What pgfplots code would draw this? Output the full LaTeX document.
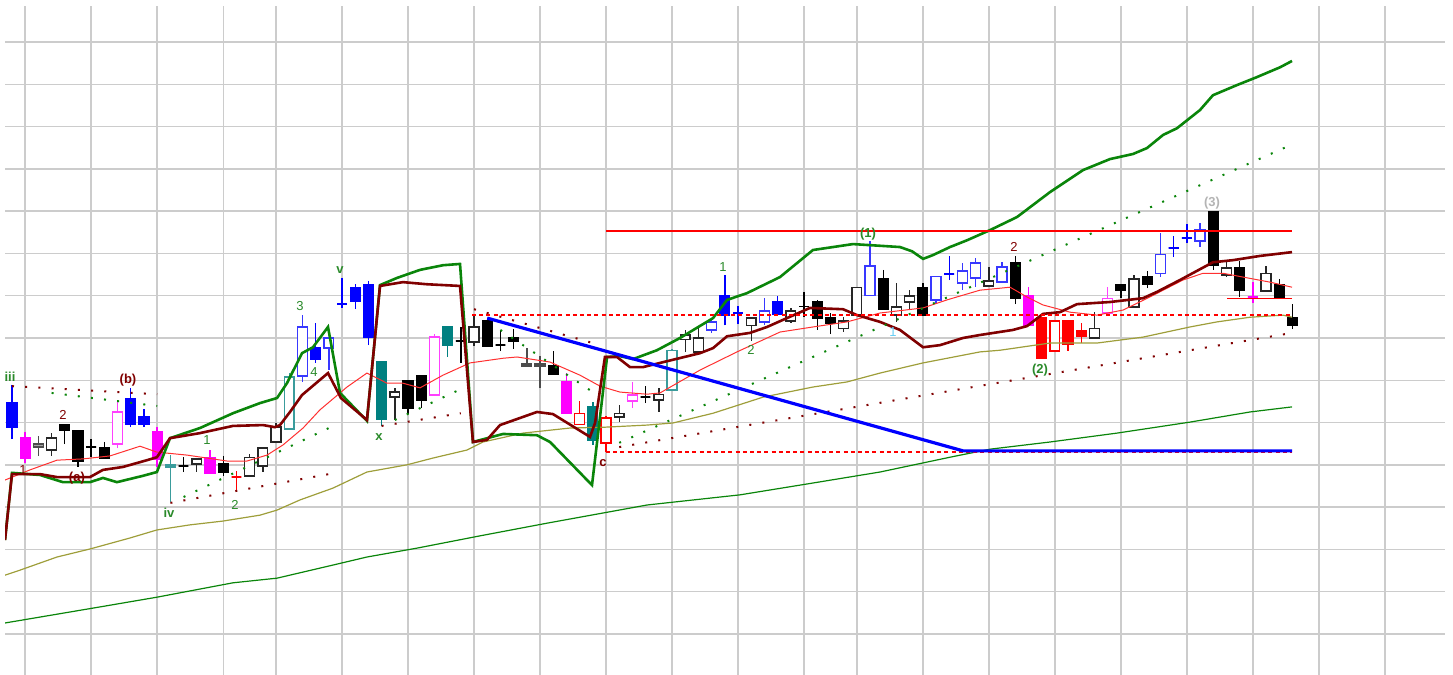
\documentclass[border=0pt]{standalone}
\usepackage{fontspec}
\setmainfont{Liberation Sans}
\usepackage{pgfplots}
\pgfplotsset{compat=1.18}
\usepgfplotslibrary{statistics}

\definecolor{cblue}{HTML}{0000FF}
\definecolor{cblueh}{HTML}{3838FF}
\definecolor{cmag}{HTML}{FF00FF}
\definecolor{cmagh}{HTML}{FF40FF}
\definecolor{cteal}{HTML}{008080}
\definecolor{ctealh}{HTML}{3A9C9C}
\definecolor{cred}{HTML}{FF0000}
\definecolor{bandgreen}{HTML}{0A850A}
\definecolor{bandred}{HTML}{800000}
\definecolor{marine}{HTML}{FF3030}
\definecolor{olivel}{HTML}{9E9E3A}
\definecolor{lblgreen}{HTML}{2A8A2A}
\definecolor{lblgray}{HTML}{B4B4B4}

\pgfplotsset{
  cdl/.style={solid, line width=0.7pt, boxplot/draw direction=y,
    boxplot/box extend=0.74, boxplot/whisker extend=0},
  bF/.style={cdl, draw=cblue, fill=cblue},
  bH/.style={cdl, draw=cblueh, fill=white},
  mF/.style={cdl, draw=cmag, fill=cmag},
  mH/.style={cdl, draw=cmagh, fill=white},
  tF/.style={cdl, draw=cteal, fill=cteal},
  tH/.style={cdl, draw=ctealh, fill=white},
  rF/.style={cdl, draw=cred, fill=cred},
  rH/.style={cdl, draw=cred, fill=white},
  kF/.style={cdl, draw=black, fill=black},
  kH/.style={cdl, draw=black!85, fill=white},
  gF/.style={cdl, draw=black!70, fill=black!35},
  dots/.style={line width=1pt, dash pattern=on 1pt off 5.6pt},
  dashr/.style={cred, line width=0.7pt, dash pattern=on 2pt off 1.6pt},
}
\tikzset{
  lbl/.style={font=\fontsize{6.5}{7}\selectfont, inner sep=0pt},
  lblb/.style={font=\fontsize{6.5}{7}\selectfont\bfseries, inner sep=0pt},
}
% candle: index, low, body bottom, body top, high, style
\newcommand{\cdl}[6]{\addplot[#6, boxplot prepared={draw position=#1,
  lower whisker=#2, lower quartile=#3, median=#3, upper quartile=#4,
  upper whisker=#5}] coordinates {};}

\begin{document}
\begin{tikzpicture}
\begin{axis}[
  scale only axis, width=720pt, height=334.5pt,
  xmin=-0.53, xmax=108.56, ymin=-0.97, ymax=14.85,
  xtick={1,6,11,16,20,25,30,35,40,45,50,55,60,64,69,74,79,84,89,94,99,104},
  ytick={0,1,...,14},
  xticklabels={}, yticklabels={},
  grid=major, major grid style={draw=black!20, line width=0.7pt},
  axis line style={draw=none}, tick style={draw=none},
]
% candles
\cdl{0}{4.61}{4.89}{5.46}{5.89}{bF}
\cdl{1}{4.04}{4.16}{4.63}{4.78}{mF}
\cdl{2}{4.21}{4.42}{4.49}{4.68}{gF}
\cdl{3}{4.21}{4.35}{4.63}{4.75}{kH}
\cdl{4}{4.49}{4.82}{4.96}{4.96}{kF}
\cdl{5}{3.95}{4.09}{4.80}{4.80}{kF}
\cdl{6}{4.18}{4.42}{4.42}{4.61}{kF}
\cdl{7}{4.16}{4.16}{4.40}{4.54}{kF}
\cdl{8}{4.40}{4.49}{5.25}{5.51}{mH}
\cdl{9}{4.89}{4.96}{5.56}{5.82}{bF}
\cdl{10}{4.89}{4.96}{5.13}{5.32}{bF}
\cdl{11}{3.95}{4.14}{4.78}{4.89}{mF}
\cdl{12}{3.12}{3.95}{4.00}{4.23}{tH}
\cdl{13}{3.83}{3.97}{3.97}{4.18}{kF}
\cdl{14}{3.83}{4.02}{4.14}{4.14}{kH}
\cdl{15}{3.81}{3.81}{4.16}{4.35}{mF}
\cdl{16}{3.74}{3.83}{4.02}{4.21}{kF}
\cdl{17}{3.38}{3.71}{3.71}{3.85}{rF}
\cdl{18}{3.74}{3.74}{4.18}{4.26}{kH}
\cdl{19}{3.83}{3.97}{4.40}{4.40}{kH}
\cdl{20}{4.54}{4.54}{4.89}{4.99}{kH}
\cdl{21}{4.85}{4.85}{6.08}{6.17}{tH}
\cdl{22}{5.96}{6.10}{7.26}{7.54}{bH}
\cdl{23}{6.41}{6.50}{6.76}{7.35}{bF}
\cdl{24}{6.24}{6.76}{7.00}{7.00}{bH}
\cdl{25}{7.71}{7.80}{7.80}{8.42}{bF}
\cdl{26}{7.68}{7.87}{8.20}{8.27}{bF}
\cdl{27}{6.83}{7.02}{8.27}{8.35}{bF}
\cdl{28}{4.92}{5.08}{6.45}{6.45}{tF}
\cdl{29}{5.06}{5.60}{5.72}{5.82}{kH}
\cdl{30}{5.20}{5.34}{5.98}{5.98}{kF}
\cdl{31}{5.34}{5.53}{6.10}{6.10}{kF}
\cdl{32}{5.65}{5.65}{7.02}{7.09}{mH}
\cdl{33}{6.55}{6.83}{7.26}{7.26}{tF}
\cdl{34}{6.41}{6.93}{6.93}{7.26}{kF}
\cdl{35}{6.81}{6.90}{7.26}{7.54}{kH}
\cdl{36}{6.81}{6.81}{7.40}{7.45}{kF}
\cdl{37}{6.69}{6.83}{6.83}{7.16}{kF}
\cdl{38}{6.74}{6.93}{7.00}{7.21}{kF}
\cdl{39}{6.34}{6.34}{6.38}{6.76}{gF}
\cdl{40}{5.82}{6.34}{6.38}{6.57}{gF}
\cdl{41}{6.15}{6.15}{6.34}{6.69}{kF}
\cdl{42}{5.22}{5.22}{5.96}{6.17}{mF}
\cdl{43}{4.96}{4.96}{5.22}{5.51}{rH}
\cdl{44}{4.47}{4.59}{5.37}{5.48}{tF}
\cdl{45}{4.30}{4.52}{5.11}{5.15}{rH}
\cdl{46}{5.01}{5.13}{5.22}{5.41}{kH}
\cdl{47}{5.34}{5.51}{5.65}{5.96}{mH}
\cdl{48}{5.46}{5.60}{5.60}{5.86}{kF}
\cdl{49}{5.25}{5.53}{5.67}{5.82}{kH}
\cdl{50}{5.77}{5.77}{6.71}{6.74}{tH}
\cdl{51}{6.67}{6.97}{7.07}{7.19}{kH}
\cdl{52}{6.67}{6.67}{7.00}{7.23}{kH}
\cdl{53}{7.12}{7.19}{7.38}{7.45}{bH}
\cdl{54}{7.30}{7.54}{7.99}{8.49}{bF}
\cdl{55}{7.33}{7.59}{7.59}{7.75}{bF}
\cdl{56}{6.93}{7.30}{7.47}{7.47}{kH}
\cdl{57}{7.30}{7.38}{7.64}{7.94}{bH}
\cdl{58}{7.57}{7.57}{7.85}{7.99}{bF}
\cdl{59}{7.35}{7.40}{7.64}{7.71}{kH}
\cdl{60}{7.49}{7.75}{7.75}{8.09}{kF}
\cdl{61}{7.19}{7.47}{7.85}{7.90}{kF}
\cdl{62}{7.09}{7.35}{7.47}{7.59}{kF}
\cdl{63}{7.14}{7.23}{7.40}{7.49}{kH}
\cdl{64}{7.54}{7.54}{8.20}{8.20}{kH}
\cdl{65}{8.01}{8.01}{8.70}{9.29}{bH}
\cdl{66}{7.68}{7.68}{8.39}{8.61}{kF}
\cdl{67}{7.38}{7.54}{7.73}{8.30}{kH}
\cdl{68}{7.66}{7.85}{7.99}{8.13}{kH}
\cdl{69}{7.54}{7.54}{8.18}{8.30}{kF}
\cdl{70}{7.80}{7.90}{8.46}{8.46}{bH}
\cdl{71}{8.37}{8.51}{8.51}{8.94}{bF}
\cdl{72}{8.13}{8.30}{8.58}{8.77}{bH}
\cdl{73}{8.20}{8.42}{8.77}{8.89}{bH}
\cdl{74}{8.23}{8.23}{8.35}{8.68}{kH}
\cdl{75}{8.32}{8.32}{8.68}{8.79}{bH}
\cdl{76}{7.80}{7.94}{8.79}{8.94}{kF}
\cdl{77}{7.30}{7.30}{7.99}{8.20}{mF}
\cdl{78}{6.52}{6.52}{7.49}{7.49}{rF}
\cdl{79}{6.69}{6.69}{7.40}{7.40}{rH}
\cdl{80}{6.69}{6.86}{7.40}{7.40}{rF}
\cdl{81}{6.88}{7.04}{7.16}{7.35}{rF}
\cdl{82}{7.00}{7.00}{7.23}{7.61}{kH}
\cdl{83}{7.59}{7.59}{7.94}{8.20}{mH}
\cdl{84}{7.94}{8.13}{8.27}{8.27}{kF}
\cdl{85}{7.73}{7.73}{8.39}{8.49}{kH}
\cdl{86}{8.18}{8.27}{8.46}{8.58}{kF}
\cdl{87}{8.44}{8.53}{8.98}{9.48}{bH}
\cdl{88}{8.91}{9.13}{9.13}{9.41}{bF}
\cdl{89}{9.24}{9.36}{9.36}{9.69}{bF}
\cdl{90}{9.15}{9.29}{9.57}{9.72}{bH}
\cdl{91}{8.61}{8.72}{9.98}{9.98}{kF}
\cdl{92}{8.44}{8.49}{8.65}{8.82}{kH}
\cdl{93}{7.97}{8.13}{8.65}{8.82}{kF}
\cdl{94}{7.83}{7.97}{7.97}{8.32}{mF}
\cdl{95}{8.11}{8.11}{8.53}{8.70}{kH}
\cdl{96}{7.97}{7.97}{8.27}{8.39}{kF}
\cdl{97}{7.21}{7.30}{7.49}{7.80}{kF}

% long moving average
\addplot[bandgreen, line width=0.6pt] coordinates {
 (-0.53,0.26) (6.67,0.64) (10.98,0.87) (16.74,1.21) (20.08,1.32) (24.32,1.63)
 (26.89,1.82) (30.68,2.03) (35.45,2.32) (40.53,2.62) (48.11,3.05) (55.15,3.29)
 (60.68,3.57) (65.76,3.83) (71.06,4.18) (74.09,4.37) (78.64,4.54) (83.71,4.75)
 (89.24,5.01) (93.79,5.25) (96.97,5.37)};
% medium moving average
\addplot[olivel, line width=0.6pt] coordinates {
 (-0.53,1.39) (0.61,1.51) (3.41,1.82) (5.91,2.01) (8.94,2.27) (10.98,2.46)
 (13.48,2.58) (15.98,2.67) (18.79,2.81) (20.08,2.93) (21.82,3.17) (24.32,3.45)
 (26.89,3.83) (29.92,4.00) (31.89,4.16) (34.47,4.35) (35.68,4.54) (38.71,4.75)
 (42.27,4.87) (44.92,4.89) (48.11,4.94) (50.08,4.99) (53.11,5.22) (56.89,5.60)
 (60.68,5.84) (63.26,5.96) (65.76,6.17) (69.02,6.41) (73.33,6.67) (74.85,6.71)
 (78.64,6.88) (82.20,6.88) (85.68,7.02) (89.24,7.26) (91.29,7.38) (93.79,7.49)
 (96.29,7.54) (96.97,7.49)};
% short moving average
\addplot[marine, line width=0.5pt] coordinates {
 (-0.53,3.64) (1.36,3.88) (3.41,4.11) (5.38,4.14) (7.42,4.21) (9.70,4.44)
 (10.98,4.30) (13.26,4.23) (16.29,4.09) (17.80,4.09) (19.32,4.23) (20.53,4.47)
 (22.05,4.87) (23.33,5.30) (25.38,5.84) (26.89,6.17) (28.41,5.93) (29.62,5.93)
 (30.91,5.82) (32.65,6.12) (34.70,6.41) (37.20,6.52) (38.26,6.55) (40.76,6.43)
 (43.03,6.12) (44.55,5.86) (46.06,5.72) (48.11,5.67) (49.09,5.70) (50.38,5.93)
 (52.12,6.24) (54.92,6.67) (58.18,7.14) (60.68,7.26) (63.26,7.38) (65.76,7.59)
 (69.02,7.71) (70.83,7.90) (73.33,8.13) (75.61,8.20) (76.89,7.97) (78.11,7.78)
 (80.15,7.61) (82.20,7.54) (84.17,7.66) (86.21,7.97) (88.71,8.37) (90.23,8.53)
 (91.74,8.53) (93.26,8.44) (95.30,8.32) (96.97,8.20)};
% upper band
\addplot[bandgreen, line width=1.3pt] coordinates {
 (-0.53,2.22) (0,3.81) (2.12,3.76) (3.86,3.59) (5.91,3.59) (6.89,3.69)
 (7.95,3.59) (9.92,3.74) (10.98,3.83) (11.97,4.63) (14.24,4.87) (16.74,5.22)
 (18.79,5.46) (20.08,5.58) (20.83,5.93) (21.97,6.64) (22.80,6.78) (23.94,7.26)
 (24.85,5.70) (26.89,5.04) (27.88,8.25) (29.17,8.42) (30.91,8.61) (32.65,8.72)
 (33.94,8.75) (34.92,4.54) (37.20,4.73) (39.77,4.70) (40.76,4.54) (43.94,3.52)
 (45.08,6.55) (46.06,6.57) (47.05,6.50) (48.86,6.71) (50.61,7.00) (53.11,7.47)
 (54.17,7.90) (55.68,8.06) (58.18,8.44) (60.68,9.08) (62.20,9.15) (63.71,9.22)
 (67.27,9.15) (68.18,9.05) (69.02,8.87) (69.77,8.96) (71.06,9.15) (72.35,9.31)
 (74.09,9.55) (76.14,9.86) (78.64,10.45) (81.14,10.97) (83.18,11.23) (84.92,11.35)
 (85.98,11.49) (87.20,11.80) (88.26,11.96) (90.00,12.39) (90.98,12.74)
 (92.80,12.98) (94.32,13.17) (96.06,13.40) (96.97,13.55)};
% middle band
\addplot[bandred, line width=1.3pt] coordinates {
 (-0.53,2.22) (0,3.78) (2.12,3.78) (3.41,3.71) (5.91,3.71) (6.89,3.88)
 (8.41,3.95) (10.23,4.11) (10.98,4.18) (11.97,4.63) (14.24,4.75) (16.74,4.92)
 (19.02,4.94) (19.92,4.89) (20.30,4.94) (21.06,5.25) (21.97,5.65) (23.94,6.17)
 (24.92,5.58) (26.89,5.06) (27.88,8.23) (29.62,8.32) (31.44,8.27) (33.94,8.23)
 (34.92,4.54) (35.98,4.59) (36.97,4.94) (39.77,5.25) (40.98,5.20) (43.79,4.66)
 (44.17,4.99) (44.92,6.55) (45.83,6.55) (46.82,6.31) (47.80,6.31) (49.62,6.45)
 (52.12,6.64) (53.11,6.76) (54.17,7.04) (55.91,7.12) (57.20,7.26) (58.71,7.47)
 (60.45,7.71) (62.95,7.68) (64.02,7.54) (65.76,7.38) (67.27,7.19) (69.02,6.78)
 (70.30,6.83) (72.05,7.00) (73.33,7.07) (75.83,7.19) (76.89,7.28) (78.11,7.57)
 (79.39,7.61) (80.68,7.80) (83.18,7.85) (85.68,7.94) (86.74,8.09) (88.48,8.37)
 (90.98,8.79) (92.50,8.84) (94.55,8.94) (96.97,9.03)};

% dotted channel lines
\addplot[bandred, dots] coordinates {(0,5.86) (11,5.67)};
\addplot[bandgreen, dots] coordinates {(3,5.70) (11,5.39)};
\addplot[bandred, dots] coordinates {(12,3.10) (24,3.78)};
\addplot[bandgreen, dots] coordinates {(13,3.24) (24,4.87)};
\addplot[bandred, dots] coordinates {(28,4.92) (34,5.22)};
\addplot[bandgreen, dots] coordinates {(29,5.06) (34,5.79)};
\addplot[bandred, dots] coordinates {(35,7.68) (44,6.88)};
\addplot[bandgreen, dots] coordinates {(37,7.19) (44,5.72)};
\addplot[bandgreen, dots] coordinates {(46,4.52) (97,11.58)};
\addplot[bandred, dots] coordinates {(46,4.42) (97,7.12)};

% levels and trend line
\addplot[dashr] coordinates {(34.85,7.54) (96.97,7.54)};
\addplot[dashr] coordinates {(45,4.30) (96.97,4.30)};
\addplot[cblue, line width=1.6pt] coordinates {(36,7.47) (72.05,4.33) (96.97,4.33)};
\addplot[cred, line width=1.2pt] coordinates {(45,9.53) (96.97,9.53)};
\addplot[cred, line width=0.6pt] coordinates {(92.05,7.94) (96.97,7.94)};

% wave labels
\node[lblb, text=lblgreen] at (axis cs:-0.15,6.08) {iii};
\node[lblb, text=bandred] at (axis cs:8.79,6.00) {(b)};
\node[lbl, text=bandred] at (axis cs:3.86,5.18) {2};
\node[lblb, text=bandred] at (axis cs:4.92,3.69) {(a)};
\node[lbl, text=bandred] at (axis cs:0.83,3.88) {1};
\node[lblb, text=lblgreen] at (axis cs:11.89,2.86) {iv};
\node[lbl, text=lblgreen] at (axis cs:14.77,4.59) {1};
\node[lbl, text=lblgreen] at (axis cs:16.89,3.05) {2};
\node[lbl, text=lblgreen] at (axis cs:21.82,7.75) {3};
\node[lbl, text=lblgreen] at (axis cs:22.88,6.19) {4};
\node[lblb, text=lblgreen] at (axis cs:24.85,8.61) {v};
\node[lblb, text=lblgreen] at (axis cs:27.80,4.66) {x};
\node[lblb, text=bandred] at (axis cs:44.77,4.04) {c};
\node[lbl, text=lblgreen] at (axis cs:53.86,8.68) {1};
\node[lbl, text=lblgreen] at (axis cs:55.98,6.71) {2};
\node[lblb, text=lblgreen] at (axis cs:64.85,9.46) {(1)};
\node[lbl, text=cyan!60!white] at (axis cs:66.74,7.14) {1};
\node[lbl, text=bandred] at (axis cs:75.91,9.15) {2};
\node[lblb, text=lblgreen] at (axis cs:77.88,6.24) {(2)};
\node[lblb, text=lblgray] at (axis cs:90.91,10.19) {(3)};
\end{axis}
\pgfresetboundingbox
\path ([xshift=-2.5pt]current axis.south west) rectangle ([xshift=4pt,yshift=3pt]current axis.north east);
\end{tikzpicture}
\end{document}
